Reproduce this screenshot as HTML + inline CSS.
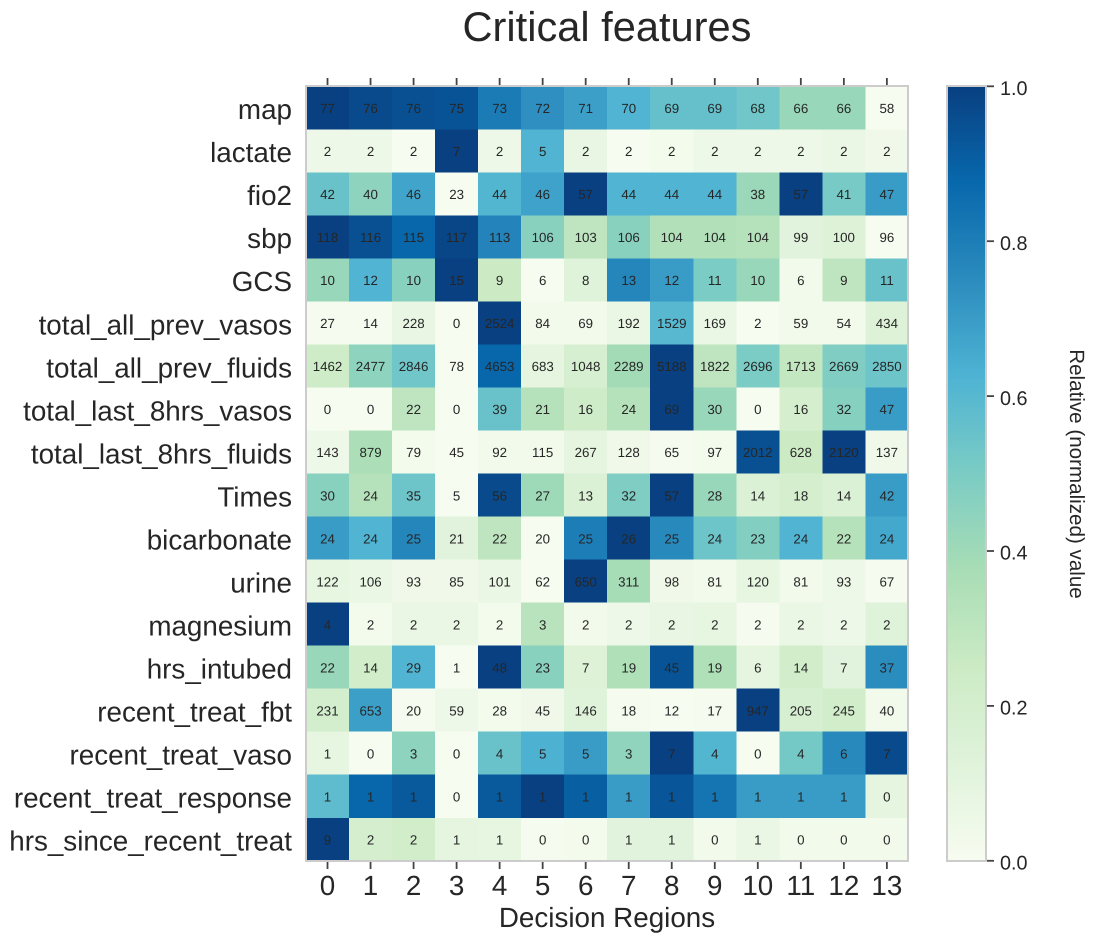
<!DOCTYPE html>
<html lang="en">
<head>
<meta charset="utf-8">
<title>Critical features</title>
<style>
html,body{margin:0;padding:0;background:#fff;width:1093px;height:942px;overflow:hidden}
svg{display:block;font-family:"Liberation Sans",Arial,sans-serif;fill:#262626;text-rendering:geometricPrecision}
</style>
</head>
<body>
<svg id="chart" xmlns="http://www.w3.org/2000/svg" width="1093" height="942" viewBox="0 0 1093 942">
  <defs>
    <linearGradient id="colorbar-gradient" x1="0" y1="1" x2="0" y2="0"></linearGradient>
  </defs>
  <text x="607" y="41" font-size="41.6" text-anchor="middle">Critical features</text>
  <g id="cells" shape-rendering="crispEdges"></g>
  <g id="annotations"></g>
  <g id="axes"></g>
  <text x="607" y="927" font-size="27.8" text-anchor="middle">Decision Regions</text>
  <g id="colorbar"></g>
  <text transform="translate(1070,474) rotate(90)" font-size="20.6" text-anchor="middle">Relative (normalized) value</text>
</svg>
<script>
const columnLabels = ["0","1","2","3","4","5","6","7","8","9","10","11","12","13"];
const rowLabels = ["map","lactate","fio2","sbp","GCS","total_all_prev_vasos","total_all_prev_fluids","total_last_8hrs_vasos","total_last_8hrs_fluids","Times","bicarbonate","urine","magnesium","hrs_intubed","recent_treat_fbt","recent_treat_vaso","recent_treat_response","hrs_since_recent_treat"];
const printedRows = [
  [77,76,76,75,73,72,71,70,69,69,68,66,66,58],
  [2,2,2,7,2,5,2,2,2,2,2,2,2,2],
  [42,40,46,23,44,46,57,44,44,44,38,57,41,47],
  [118,116,115,117,113,106,103,106,104,104,104,99,100,96],
  [10,12,10,15,9,6,8,13,12,11,10,6,9,11],
  [27,14,228,0,2524,84,69,192,1529,169,2,59,54,434],
  [1462,2477,2846,78,4653,683,1048,2289,5188,1822,2696,1713,2669,2850],
  [0,0,22,0,39,21,16,24,69,30,0,16,32,47],
  [143,879,79,45,92,115,267,128,65,97,2012,628,2120,137],
  [30,24,35,5,56,27,13,32,57,28,14,18,14,42],
  [24,24,25,21,22,20,25,26,25,24,23,24,22,24],
  [122,106,93,85,101,62,650,311,98,81,120,81,93,67],
  [4,2,2,2,2,3,2,2,2,2,2,2,2,2],
  [22,14,29,1,48,23,7,19,45,19,6,14,7,37],
  [231,653,20,59,28,45,146,18,12,17,947,205,245,40],
  [1,0,3,0,4,5,5,3,7,4,0,4,6,7],
  [1,1,1,0,1,1,1,1,1,1,1,1,1,0],
  [9,2,2,1,1,0,0,1,1,0,1,0,0,0]
];
const shadeRows = [
  [1,.97,.95,.94,.81,.74,.69,.62,.56,.56,.53,.42,.42,0],
  [.05,.05,0,1,.05,.62,.08,0,.02,.05,.05,.05,.07,.04],
  [.55,.45,.67,0,.61,.68,1,.62,.62,.62,.41,1,.51,.7],
  [1,.95,.88,.98,.78,.46,.3,.46,.34,.34,.33,.12,.14,0],
  [.42,.62,.46,1,.25,0,.13,.77,.7,.5,.42,.03,.3,.55],
  [.01,.01,.08,0,1,.03,.03,.07,.6,.07,0,.03,.03,.14],
  [.24,.45,.53,0,.88,.1,.18,.39,1,.3,.5,.28,.49,.54],
  [0,0,.3,0,.55,.33,.23,.33,1,.42,0,.2,.47,.7],
  [.05,.36,.02,0,.03,.03,.1,.04,.01,.02,.95,.25,1,.04],
  [.46,.33,.54,0,.97,.4,.16,.49,1,.42,.16,.2,.16,.7],
  [.7,.62,.77,.12,.3,0,.8,1,.76,.54,.48,.62,.33,.66],
  [.09,.07,.04,.04,.07,0,1,.38,.04,.03,.09,.03,.05,.01],
  [1,.02,.07,.07,.02,.32,.03,.05,.08,.09,.01,.07,.05,.13],
  [.42,.22,.62,0,1,.46,.14,.35,.94,.35,.1,.22,.12,.75],
  [.21,.69,.01,.05,.02,.04,.13,.01,0,.01,1,.18,.22,.03],
  [.09,0,.45,0,.55,.63,.7,.44,1,.61,0,.52,.76,.97],
  [.58,.88,.92,0,.92,1,.9,.7,.93,.83,.7,.7,.7,.1],
  [1,.2,.22,.1,.09,.01,.02,.12,.12,.03,.07,.03,.03,.03]
];
const colorbarTicks = [0,0.2,0.4,0.6,0.8,1];
const paletteStops = ["#f7fcf0","#e0f3db","#ccebc5","#a8ddb5","#7bccc4","#4eb3d3","#2b8cbe","#0868ac","#084081"];

const NS = "http://www.w3.org/2000/svg";
const plotLeft = 306, plotTop = 86.3, plotRight = 908.4, plotBottom = 860.8;
const cellW = (plotRight - plotLeft) / columnLabels.length;
const cellH = (plotBottom - plotTop) / rowLabels.length;
const xScale = function (i) { return plotLeft + cellW * i; };
const yScale = function (i) { return plotTop + cellH * i; };
const barLeft = 947, barRight = 986;
const barScale = function (v) { return plotBottom - (plotBottom - plotTop) * v; };

function hexToRgb(h) {
  return [parseInt(h.slice(1,3),16), parseInt(h.slice(3,5),16), parseInt(h.slice(5,7),16)];
}
function shadeColor(t) {
  const c = Math.max(0, Math.min(1, t)) * (paletteStops.length - 1);
  const i = Math.min(Math.floor(c), paletteStops.length - 2);
  const a = hexToRgb(paletteStops[i]), b = hexToRgb(paletteStops[i + 1]);
  const f = c - i;
  return "rgb(" + a.map(function (v, k) { return Math.round(v + (b[k] - v) * f); }).join(",") + ")";
}
function make(tag, attrs, parent, text) {
  const el = document.createElementNS(NS, tag);
  Object.keys(attrs).forEach(function (k) { el.setAttribute(k, attrs[k]); });
  if (text !== undefined) el.textContent = text;
  parent.appendChild(el);
  return el;
}

const cellsG = document.getElementById("cells");
const annG = document.getElementById("annotations");
const axesG = document.getElementById("axes");
const barG = document.getElementById("colorbar");

rowLabels.forEach(function (rowName, r) {
  columnLabels.forEach(function (colName, c) {
    const rect = make("rect", {x: xScale(c), y: yScale(r), width: cellW, height: cellH, fill: shadeColor(shadeRows[r][c])}, cellsG);
    
    
    const label = make("text", {x: xScale(c) + cellW / 2, y: yScale(r) + cellH / 2 + 5.2, "font-size": 13.3, "text-anchor": "middle"}, annG, String(printedRows[r][c]));
    
    
  });
  const yLabel = make("text", {x: 292, y: yScale(r) + cellH / 2 + 11.3, "font-size": 27.8, "text-anchor": "end"}, axesG, rowName);
  
  
});

const frame = make("rect", {x: plotLeft, y: 86, width: 602, height: 775, fill: "none", stroke: "#cccccc", "stroke-width": 2, "shape-rendering": "crispEdges"}, axesG);



columnLabels.forEach(function (colName, c) {
  const cx = xScale(c) + cellW / 2;
  const topTick = make("line", {x1: cx, x2: cx, y1: 78, y2: 85, stroke: "#444444", "stroke-width": 1.8}, axesG);
  
  
  const bottomTick = make("line", {x1: cx, x2: cx, y1: 862, y2: 869, stroke: "#444444", "stroke-width": 1.8}, axesG);
  
  
  const xLabel = make("text", {x: cx, y: 895, "font-size": 27.8, "text-anchor": "middle"}, axesG, colName);
  
  
});

const gradient = document.getElementById("colorbar-gradient");
paletteStops.forEach(function (color, i) {
  make("stop", {offset: i / (paletteStops.length - 1), "stop-color": color}, gradient);
});
const barRect = make("rect", {x: barLeft, y: 86, width: barRight - barLeft, height: 775, fill: "url(#colorbar-gradient)", stroke: "#cccccc", "stroke-width": 2, "shape-rendering": "crispEdges"}, barG);



colorbarTicks.forEach(function (v) {
  const y = barScale(v);
  const tick = make("line", {x1: barRight + 1, x2: barRight + 8, y1: y, y2: y, stroke: "#444444", "stroke-width": 1.8}, barG);
  
  
  const label = make("text", {x: 1000, y: y + 8.7, "font-size": 19.8}, barG, v.toFixed(1));
  
  
});
</script>
</body>
</html>
